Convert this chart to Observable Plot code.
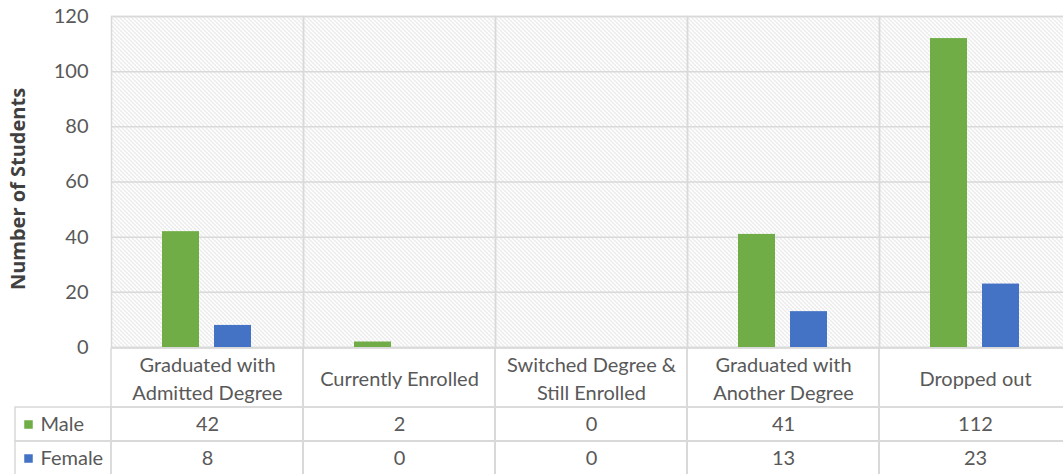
<!DOCTYPE html>
<html><head><meta charset="utf-8">
<script src="https://cdn.jsdelivr.net/npm/d3@7"></script>
<script src="https://cdn.jsdelivr.net/npm/@observablehq/plot@0.6"></script>
<style>
body{margin:0;background:#fff;}
#chart{width:1063px;height:474px;overflow:hidden;position:relative}
#chart svg{display:block;max-width:none}
#chart svg [aria-label="y-axis label"] text{font-weight:bold;font-family:'Open Sans',sans-serif;font-size:20px;fill:#404040;}
</style></head><body><div id="chart"></div>
<script>
const categories = ["Graduated with\nAdmitted Degree","Currently Enrolled","Switched Degree &\nStill Enrolled","Graduated with\nAnother Degree","Dropped out"];
const seriesNames = ["Male","Female"];
const maleValues = [42,2,0,41,112];
const femaleValues = [8,0,0,13,23];
const seriesColors = ["#70AD47","#4472C4"];
const yTicks = [0,20,40,60,80,100,120];
const yTitle = "Number of Students";

const rows = [];
categories.forEach((c,i)=>{
  rows.push({category:c, series:"Male", value:maleValues[i]});
  rows.push({category:c, series:"Female", value:femaleValues[i]});
});

const font = "Lato, 'Open Sans', sans-serif";
const textColor = "#595959";
const lineColor = "#d9d9d9";

const chart = Plot.plot({
  width:1063, height:348, marginTop:16, marginBottom:1, marginLeft:109, marginRight:-9,
  style:{fontFamily:font, fontSize:"20px", color:textColor, background:"transparent", overflow:"visible"},
  fx:{domain:categories, padding:0, axis:null, label:null},
  x:{domain:seriesNames, paddingInner:0.283, paddingOuter:0.958, axis:null, label:null},
  y:{domain:[0,120], label:null},
  color:{domain:seriesNames, range:seriesColors},
  marks:[
    Plot.frame({fill:"url(#hatch)"}),
    Plot.gridY(yTicks, {stroke:lineColor, strokeOpacity:1, strokeWidth:1.5}),
    Plot.frame({stroke:lineColor, strokeWidth:1.5}),
    Plot.axisY(yTicks, {tickSize:0, tickPadding:23, label:yTitle, labelAnchor:"center", labelOffset:101, labelArrow:"none", fill:textColor, fontSize:20}),
    Plot.barY(rows, {fx:"category", x:"series", y:"value", fill:"series"})
  ]
});

// hatch pattern for the plot area background
const ns = "http://www.w3.org/2000/svg";
const defs = document.createElementNS(ns,"defs");
const pat = document.createElementNS(ns,"pattern");
pat.setAttribute("id","hatch");
pat.setAttribute("patternUnits","userSpaceOnUse");
pat.setAttribute("width","4");
pat.setAttribute("height","4");
pat.setAttribute("shape-rendering","crispEdges");
const bg = document.createElementNS(ns,"rect");
bg.setAttribute("width","4"); bg.setAttribute("height","4"); bg.setAttribute("fill","#ffffff");
pat.appendChild(bg);
for (let k = 0; k < 4; k++) {
  const px = document.createElementNS(ns,"rect");
  px.setAttribute("x", k); px.setAttribute("y", k);
  px.setAttribute("width", 1); px.setAttribute("height", 1);
  px.setAttribute("fill", k % 2 ? "#e2e2e2" : "#cfcfcf");
  pat.appendChild(px);
}
defs.appendChild(pat);
chart.insertBefore(defs, chart.firstChild);

// nudge the y-axis title slightly down
const lab = chart.querySelector('[aria-label="y-axis label"]');
if (lab) {
  const wrap = document.createElementNS(ns,"g");
  wrap.setAttribute("transform","translate(0,7)");
  lab.parentNode.insertBefore(wrap, lab);
  wrap.appendChild(lab);
}

const table = Plot.plot({
  width:1063, height:127, marginTop:59, marginBottom:0, marginLeft:109, marginRight:-9,
  style:{fontFamily:font, fontSize:"20px", color:textColor, background:"transparent"},
  x:{domain:categories, padding:0, axis:null},
  y:{domain:seriesNames, padding:0, axis:null},
  color:{domain:seriesNames, range:seriesColors},
  marks:[
    Plot.cell(rows, {x:"category", y:"series", fill:"none", stroke:lineColor, strokeWidth:1.5}),
    Plot.cell(categories, {x:d=>d, fill:"none", stroke:lineColor, strokeWidth:1.5, insetTop:-59}),
    Plot.cell(seriesNames, {y:d=>d, fill:"none", stroke:lineColor, strokeWidth:1.5, insetLeft:-94}),
    Plot.text(categories, {x:d=>d, frameAnchor:"top", dy:-30, lineAnchor:"middle", lineHeight:1.4, fill:textColor}),
    Plot.text(rows, {x:"category", y:"series", text:d=>String(d.value), fill:textColor}),
    Plot.text(seriesNames, {y:d=>d, frameAnchor:"left", dx:-69, textAnchor:"start", fill:textColor}),
    Plot.dot(seriesNames, {y:d=>d, frameAnchor:"left", dx:-81, symbol:"square", r:4.8, fill:d=>d, stroke:null})
  ]
});

const root = document.getElementById("chart");
root.appendChild(chart);
root.appendChild(table);
</script></body></html>
